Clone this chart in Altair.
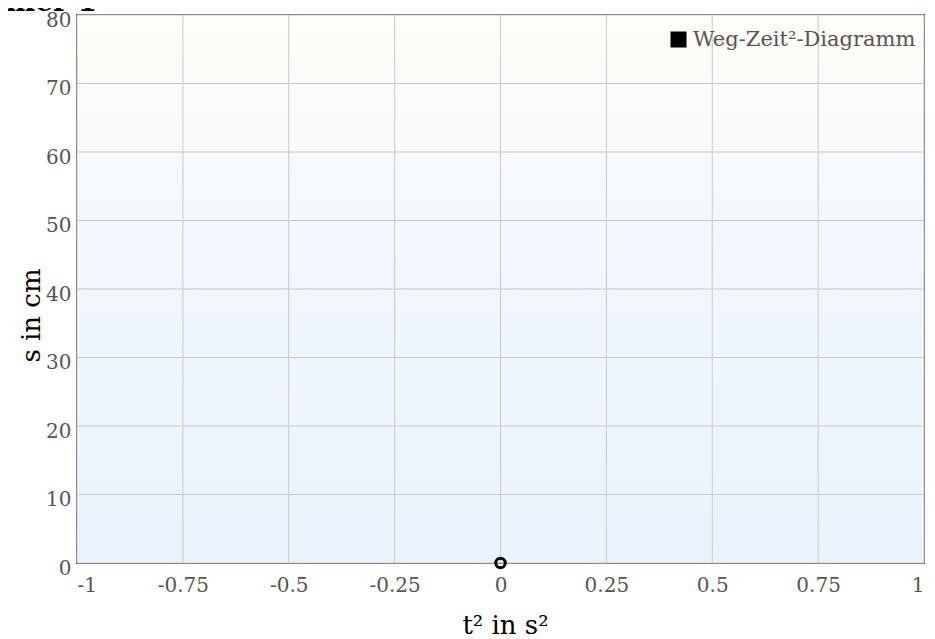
import altair as alt
import pandas as pd

# data
t2_values = [0.0]
s_values = [0.0]
series_names = ["Weg-Zeit²-Diagramm"]
x_ticks = [-1, -0.75, -0.5, -0.25, 0, 0.25, 0.5, 0.75, 1]
y_ticks = [0, 10, 20, 30, 40, 50, 60, 70, 80]
chart_title = "Nummer 1"

W, H = 847, 548
FONT = "DejaVu Serif"
GRID = "#c9c9c9"

df = pd.DataFrame({"t2": t2_values, "s": s_values, "series": series_names})
xt_df = pd.DataFrame({"t2": x_ticks})
yt_df = pd.DataFrame({"s": y_ticks})

x_scale = alt.Scale(domain=[-1, 1], nice=False)
y_scale = alt.Scale(domain=[0, 80], nice=False)

bg = alt.Chart(df).mark_rect(
    fill=alt.LinearGradient(
        gradient="linear", x1=0, x2=0, y1=0, y2=1,
        stops=[alt.GradientStop(offset=0, color="#fffdf7"),
               alt.GradientStop(offset=0.35, color="#f4f8fd"),
               alt.GradientStop(offset=1, color="#e9f3fd")]),
).encode(x=alt.value(0), x2=alt.value(W), y=alt.value(0), y2=alt.value(H))

vgrid = alt.Chart(xt_df).mark_rule(color=GRID, strokeWidth=1).encode(
    x=alt.X("t2:Q", scale=x_scale))
hgrid = alt.Chart(yt_df).mark_rule(color=GRID, strokeWidth=1).encode(
    y=alt.Y("s:Q", scale=y_scale))

x_enc = alt.X("t2:Q", title="t² in s²", scale=x_scale,
              axis=alt.Axis(values=x_ticks, labelExpr="datum.value + ''",
                            titleX=428, titleY=70, titleBaseline="alphabetic"))
y_enc = alt.Y("s:Q", title="s in cm", scale=y_scale,
              axis=alt.Axis(values=y_ticks, titleX=-38, titleY=300,
                            titleBaseline="alphabetic", titleAlign="center",
                            labelOffset=5))

points = alt.Chart(df).mark_point(
    filled=False, strokeWidth=3, size=90, shape="circle", opacity=1,
    color="#000000"
).encode(x=x_enc, y=y_enc)

legend_layer = alt.Chart(df).mark_square(filled=True, size=0).encode(
    x=x_enc, y=y_enc,
    color=alt.Color("series:N", title=None,
                    scale=alt.Scale(range=["#000000"]),
                    legend=alt.Legend(orient="none", legendX=591, legendY=14,
                                      symbolType="square", symbolSize=256,
                                      symbolFillColor="#000000",
                                      symbolStrokeWidth=0, symbolOpacity=1,
                                      labelFont=FONT, labelFontSize=21,
                                      labelColor="#555555", padding=0,
                                      labelOffset=4, labelLimit=400)),
)

title_df = pd.DataFrame({"label": [chart_title]})
title = alt.Chart(title_df).mark_text(
    font=FONT, fontWeight="bold", fontSize=28, align="right",
    baseline="alphabetic", color="#000000"
).encode(x=alt.value(20), y=alt.value(-4), text="label:N")

chart = alt.layer(bg, vgrid, hgrid, points, legend_layer, title).properties(
    width=W, height=H,
    autosize=alt.AutoSizeParams(type="none"),
    padding={"left": 69, "top": 7, "right": 3, "bottom": 76},
).configure_view(
    stroke="#5b4f4a", strokeWidth=2
).configure_axis(
    domain=False, ticks=False, grid=False,
    labelFont=FONT, labelFontSize=20, labelColor="#555555",
    titleFont=FONT, titleFontSize=26, titleColor="#000000", titleFontWeight="normal",
).configure_axisX(
    labelPadding=12
).configure_axisY(
    labelPadding=6
)

chart.save("out.html", embed_options={"renderer": "svg", "actions": False})
